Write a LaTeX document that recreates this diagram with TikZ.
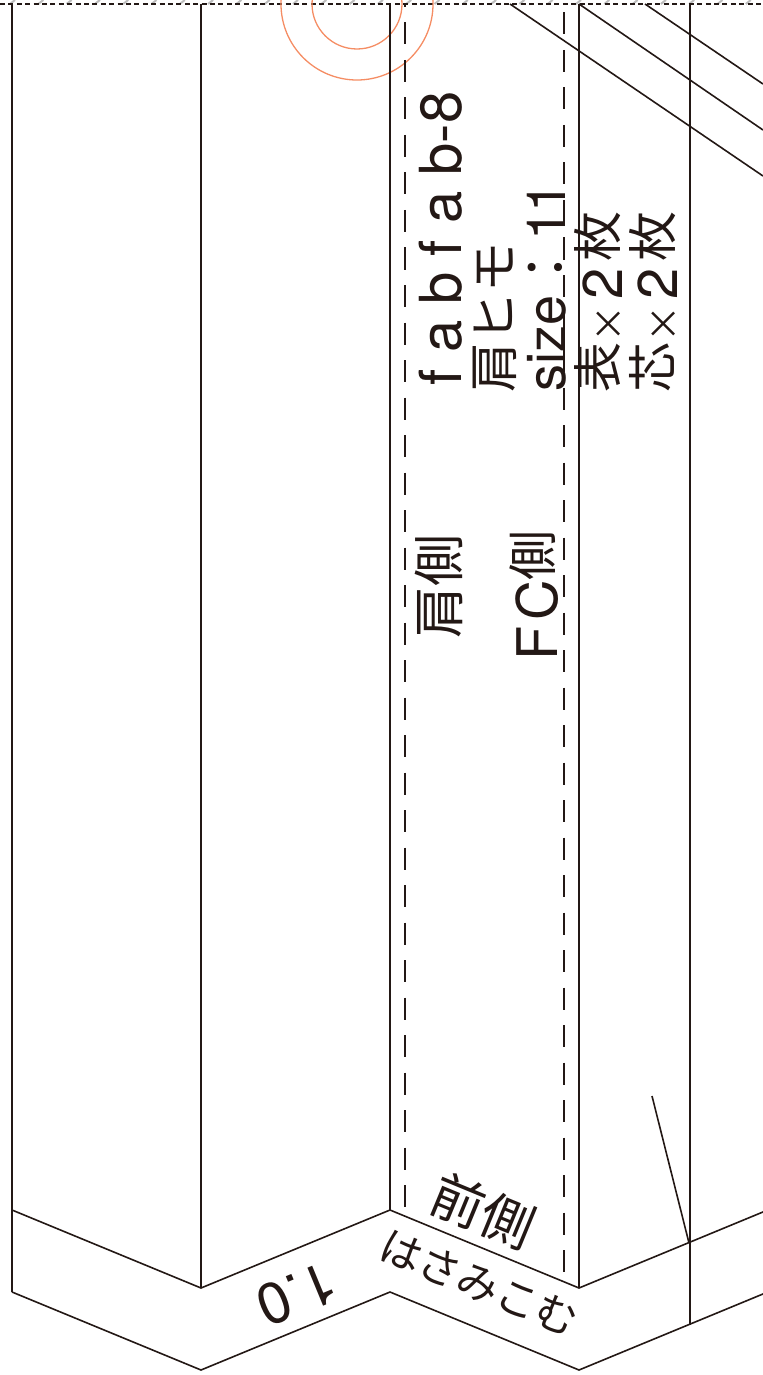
\documentclass[tikz,border=0pt]{standalone}
\usepackage{fontspec}
\setmainfont{TeX Gyre Heros}
\newfontfamily\jpfont{Noto Sans CJK JP}
\definecolor{ink}{HTML}{231815}
\definecolor{peach}{HTML}{F58D64}
\definecolor{hatch}{HTML}{BDBDBD}
\newcommand{\kj}[1]{\raisebox{3pt}{\fontsize{25}{25}\jpfont #1}}
\newcommand{\bigx}{{\fontsize{18.5}{18.5}\jpfont ×}}
\tikzset{
  pline/.style={draw=ink,line width=0.8pt},
  longdash/.style={draw=ink,line width=0.8pt,dash pattern=on 11pt off 7.75pt},
  topdash/.style={draw=ink,line width=0.6pt,dash pattern=on 2.5pt off 1.7pt},
  ring/.style={draw=peach,line width=0.65pt},
  tick/.style={draw=hatch,line width=1pt},
  lbl/.style={inner sep=0pt,outer sep=0pt,text=ink},
  vlbl/.style={lbl,rotate=90,anchor=base west},
  lat/.style={font=\fontsize{29}{29}\selectfont},
  jp/.style={font=\fontsize{25}{25}\jpfont},
}
\begin{document}
\begin{tikzpicture}[x=0.5pt,y=-0.5pt]
\useasboundingbox (0,0) rectangle (763,1375);
\begin{scope}
\clip (0,0) rectangle (763,1375);
% crop hatch and edge
\foreach \i in {0,...,27} \draw[tick] ({10+28.3*\i},4) -- ({15+28.3*\i},0);
\draw[topdash] (0,4) -- (763,4);
% rings
\draw[ring] (357,4) circle (76);
\draw[ring] (357,4) circle (45);
% verticals
\draw[pline] (12,4) -- (12,1292);
\draw[pline] (201,4) -- (201,1288);
\draw[pline] (390,4) -- (390,1210);
\draw[pline] (579,4) -- (579,1288);
\draw[pline] (690,4) -- (690,1325);
% stitch lines
\draw[longdash,dash phase=9.5pt] (405,4) -- (405,1217);
\draw[longdash,dash phase=14.5pt] (564,4) -- (564,1281);
% zigzags
\draw[pline] (12,1210) -- (201,1288) -- (390,1210) -- (579,1288) -- (775,1207);
\draw[pline] (12,1292) -- (201,1370) -- (390,1292) -- (579,1370) -- (775,1289);
% diagonals
\draw[pline] (510,4) -- (763,176);
\draw[pline] (579,4) -- (763,130);
\draw[pline] (645,4) -- (763,84);
\draw[pline] (652,1096) -- (689,1243);
\end{scope}
% labels
\node[vlbl,lat] (code) at (461,385) {f a b f a b-8};
\node[vlbl,jp] (himo) at (512,392) {肩ヒモ};
\node[vlbl,font=\fontsize{27}{27}\selectfont] (size) at (565,391) {size{\jpfont ：}1\hspace{-1pt}1};
\node[vlbl,font=\fontsize{28}{28}\selectfont] (omote) at (622,392) {\kj{表}\bigx\hspace{3pt}2\hspace{3pt}\kj{枚}};
\node[vlbl,font=\fontsize{28}{28}\selectfont] (shin) at (677,392) {\kj{芯}\bigx\hspace{3pt}2\hspace{3pt}\kj{枚}};
\node[vlbl,font=\fontsize{26}{26}\jpfont] (kata) at (458,638) {肩側};
\node[vlbl,font=\fontsize{28}{28}\selectfont] (fc) at (557,660) {F\hspace{2.5pt}C\kj{側}};
\node[lbl,rotate=-22.4,font=\fontsize{26.5}{26.5}\jpfont] (mae) at (483,1211) {前側};
\node[lbl,rotate=-22.4,font=\fontsize{21}{21}\jpfont] (hasami) at (479,1283) {はさみこむ};
\node[lbl,rotate=202.4,font=\fontsize{29}{29}\selectfont] (num) at (297,1294) {1.0};
\end{tikzpicture}
\end{document}
